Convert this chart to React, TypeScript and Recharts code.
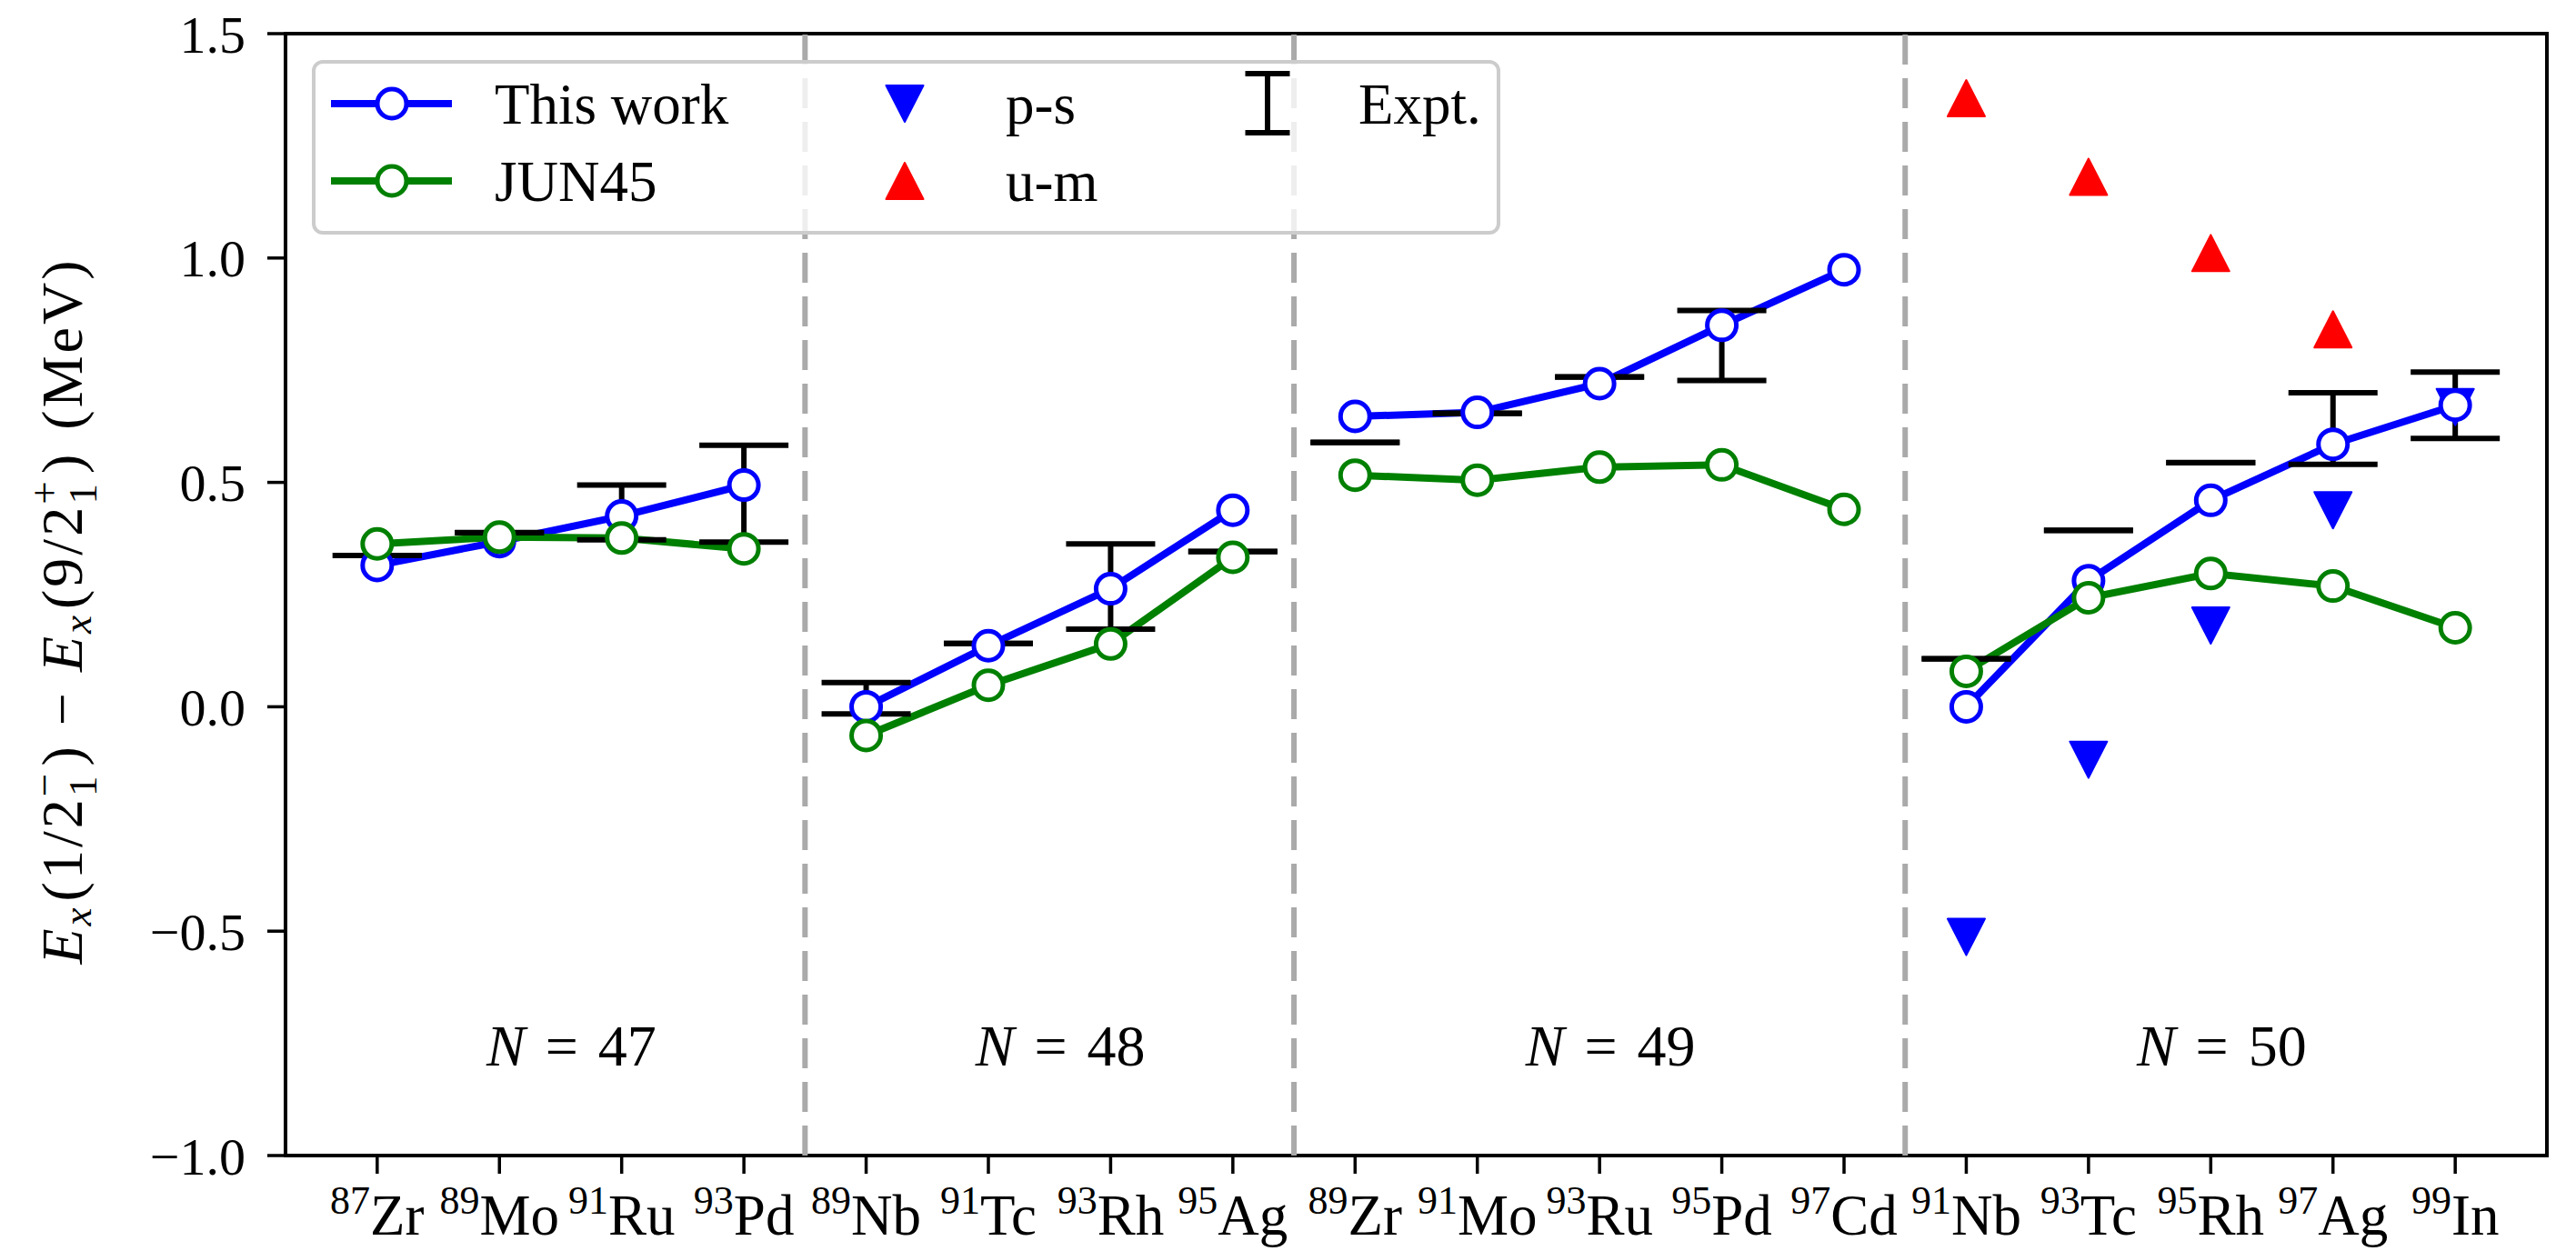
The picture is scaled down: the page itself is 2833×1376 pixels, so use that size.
import React from 'react';
import {
  ComposedChart,
  Line,
  Scatter,
  XAxis,
  YAxis,
  ErrorBar,
  ReferenceLine,
  ReferenceArea,
} from 'recharts';

const FONT = "'Liberation Serif', 'DejaVu Serif', serif";

// nuclides along the x axis
const massNumbers = [87, 89, 91, 93, 89, 91, 93, 95, 89, 91, 93, 95, 97, 91, 93, 95, 97, 99];
const elements = ['Zr', 'Mo', 'Ru', 'Pd', 'Nb', 'Tc', 'Rh', 'Ag', 'Zr', 'Mo', 'Ru', 'Pd', 'Cd', 'Nb', 'Tc', 'Rh', 'Ag', 'In'];

// E(1/2-) - E(9/2+) in MeV
const thisWork = [0.315, 0.368, 0.425, 0.494, 0.0, 0.136, 0.263, 0.438, 0.647, 0.656, 0.72, 0.85, 0.974, 0.0, 0.281, 0.46, 0.585, 0.672];
const jun45 = [0.363, 0.378, 0.376, 0.352, -0.064, 0.048, 0.14, 0.333, 0.516, 0.505, 0.534, 0.539, 0.44, 0.079, 0.243, 0.297, 0.269, 0.176];
const expt = [0.337, 0.388, 0.433, 0.475, 0.019, 0.141, 0.268, 0.346, 0.589, 0.654, 0.735, 0.805, null, 0.107, 0.393, 0.544, 0.62, 0.672];
const exptErr = [0, 0, 0.061, 0.108, 0.035, 0, 0.095, 0, 0, 0, 0, 0.078, null, 0, 0, 0, 0.08, 0.074];

// N = 50 particle-hole estimates
const psIndex = [13, 14, 15, 16, 17];
const psValues = [-0.513, -0.118, 0.181, 0.438, 0.668];
const umIndex = [13, 14, 15, 16];
const umValues = [1.356, 1.181, 1.011, 0.841];

// isotone groups
const groupRanges = [[0, 3], [4, 7], [8, 12], [13, 17]];
const groupNames = ['47', '48', '49', '50'];
const groupCenters = [1.5, 5.5, 10, 15];
const separators = [3.5, 7.5, 12.5];

const yTicks = [-1, -0.5, 0, 0.5, 1, 1.5];
const xTicks = massNumbers.map((_, i) => i);

const BLUE = '#0000ff';
const GREEN = '#008000';
const RED = '#ff0000';

const seg = (vals: number[], [a, b]: number[]) =>
  vals.slice(a, b + 1).map((y, k) => ({ x: a + k, y }));

// zero errors are skipped by ErrorBar, so give them a hair of height to keep the caps
const exptData = expt
  .map((y, i) => ({ x: i, y, err: exptErr[i] || 1e-4 }))
  .filter((d) => d.y !== null);
const psData = psIndex.map((x, k) => ({ x, y: psValues[k] }));
const umData = umIndex.map((x, k) => ({ x, y: umValues[k] }));
const labelData = groupCenters.map((x, k) => ({ x, y: -0.8, name: groupNames[k] }));

const ringDot = (color: string) => (p: any) => (
  <circle key={`d-${p.index}`} cx={p.cx} cy={p.cy} r={16} fill="#fff" stroke={color} strokeWidth={5} />
);

const TriUp = (p: any) => (
  <polygon
    points={`${p.cx},${p.cy - 20} ${p.cx - 20.5},${p.cy + 20} ${p.cx + 20.5},${p.cy + 20}`}
    fill={RED}
    stroke={RED}
    strokeWidth={2}
    strokeLinejoin="round"
  />
);

const TriDown = (p: any) => (
  <polygon
    points={`${p.cx},${p.cy + 20} ${p.cx - 20.5},${p.cy - 20} ${p.cx + 20.5},${p.cy - 20}`}
    fill={BLUE}
    stroke={BLUE}
    strokeWidth={2}
    strokeLinejoin="round"
  />
);

const Empty = () => <g />;

const GroupLabel = (p: any) => (
  <text x={p.cx + 12} y={p.cy} textAnchor="middle" fontFamily={FONT} fontSize={64} fill="#000">
    <tspan fontStyle="italic">N</tspan>
    <tspan dx={22}>=</tspan>
    <tspan dx={22}>{p.payload.name}</tspan>
  </text>
);

const NuclideTick = (p: any) => {
  const i = p.payload.value;
  return (
    <text x={p.x} y={p.y + 67} textAnchor="middle" fontFamily={FONT} fill="#000">
      <tspan fontSize={44} dy={-23}>{massNumbers[i]}</tspan>
      <tspan fontSize={63} dy={23}>{elements[i]}</tspan>
    </text>
  );
};

const YLabel = () => {
  const cx = 90;
  const cy = 672;
  return (
    <text
      x={cx}
      y={cy}
      transform={`rotate(-90, ${cx}, ${cy})`}
      textAnchor="middle"
      fontFamily={FONT}
      fontSize={64}
      letterSpacing={3}
      fill="#000"
    >
      <tspan fontStyle="italic">E</tspan>
      <tspan fontStyle="italic" fontSize={45} dy={10}>x</tspan>
      <tspan dx={4} dy={-10}>(1/2</tspan>
      <tspan fontSize={45} dy={-26}>−</tspan>
      <tspan fontSize={45} dx={-28} dy={42}>1</tspan>
      <tspan dx={8} dy={-16}>)</tspan>
      <tspan dx={20}>−</tspan>
      <tspan dx={20} fontStyle="italic">E</tspan>
      <tspan fontStyle="italic" fontSize={45} dy={10}>x</tspan>
      <tspan dx={4} dy={-10}>(9/2</tspan>
      <tspan fontSize={45} dy={-26}>+</tspan>
      <tspan fontSize={45} dx={-28} dy={42}>1</tspan>
      <tspan dx={8} dy={-16}>)</tspan>
      <tspan dx={24}>(MeV)</tspan>
    </text>
  );
};

const LegendBox = () => (
  <div style={{ position: 'absolute', left: 343, top: 66, width: 1307, height: 192 }}>
    <div
      style={{
        position: 'absolute',
        inset: 0,
        border: '4px solid #cccccc',
        borderRadius: 12,
        background: 'rgba(255,255,255,0.8)',
        boxSizing: 'border-box',
      }}
    />
    <svg width={1307} height={192} style={{ position: 'absolute', left: 0, top: 0 }}>
      <g fontFamily={FONT} fontSize={63} fill="#000">
        <line x1={21} x2={154} y1={48} y2={48} stroke={BLUE} strokeWidth={8} />
        <circle cx={88} cy={48} r={16} fill="#fff" stroke={BLUE} strokeWidth={5} />
        <text x={201} y={70}>This work</text>
        <line x1={21} x2={154} y1={133} y2={133} stroke={GREEN} strokeWidth={8} />
        <circle cx={88} cy={133} r={16} fill="#fff" stroke={GREEN} strokeWidth={5} />
        <text x={201} y={155}>JUN45</text>
        <TriDown cx={652} cy={48} />
        <text x={763} y={70}>p-s</text>
        <TriUp cx={652} cy={133} />
        <text x={763} y={155}>u-m</text>
        <line x1={1051} x2={1051} y1={15} y2={80} stroke="#000" strokeWidth={6} />
        <line x1={1026.5} x2={1075.5} y1={15} y2={15} stroke="#000" strokeWidth={6} />
        <line x1={1026.5} x2={1075.5} y1={80} y2={80} stroke="#000" strokeWidth={6} />
        <text x={1151} y={70}>Expt.</text>
      </g>
    </svg>
  </div>
);

export default function App() {
  return (
    <div style={{ position: 'absolute', left: 0, top: 0, width: 2833, height: 1376, background: '#fff' }}>
      <ComposedChart width={2833} height={1376} margin={{ top: 37, right: 32, bottom: 0, left: 0 }}>
        <XAxis
          dataKey="x"
          type="number"
          domain={[-0.75, 17.75]}
          allowDataOverflow
          ticks={xTicks}
          interval={0}
          height={105}
          tickSize={20}
          tickMargin={0}
          axisLine={false}
          tickLine={{ stroke: '#000', strokeWidth: 3.5 }}
          tick={<NuclideTick />}
        />
        <YAxis
          type="number"
          domain={[-1, 1.5]}
          allowDataOverflow
          ticks={yTicks}
          interval={0}
          width={314}
          tickSize={20}
          tickMargin={24}
          axisLine={false}
          tickLine={{ stroke: '#000', strokeWidth: 3.5 }}
          tick={{ fill: '#000', fontSize: 58, fontFamily: FONT }}
          tickFormatter={(v: number) => v.toFixed(1).replace('-', '−')}
          label={{ content: () => <YLabel /> }}
        />
        {separators.map((s) => (
          <ReferenceLine key={`sep-${s}`} x={s} stroke="#aaaaaa" strokeWidth={6} strokeDasharray="33 15" />
        ))}
        <Scatter data={psData} dataKey="y" shape={<TriDown />} isAnimationActive={false} />
        <Scatter data={umData} dataKey="y" shape={<TriUp />} isAnimationActive={false} />
        {groupRanges.map((r, k) => (
          <Line
            key={`tw-${k}`}
            data={seg(thisWork, r)}
            dataKey="y"
            stroke={BLUE}
            strokeWidth={8}
            dot={ringDot(BLUE)}
            activeDot={false}
            isAnimationActive={false}
          />
        ))}
        {groupRanges.map((r, k) => (
          <Line
            key={`jn-${k}`}
            data={seg(jun45, r)}
            dataKey="y"
            stroke={GREEN}
            strokeWidth={8}
            dot={ringDot(GREEN)}
            activeDot={false}
            isAnimationActive={false}
          />
        ))}
        <Scatter data={exptData} dataKey="y" shape={<Empty />} isAnimationActive={false}>
          <ErrorBar dataKey="err" direction="y" width={49} strokeWidth={6} stroke="#000" isAnimationActive={false} />
        </Scatter>
        <Scatter data={labelData} dataKey="y" shape={<GroupLabel />} isAnimationActive={false} />
        <ReferenceArea
          x1={-0.75}
          x2={17.75}
          y1={-1}
          y2={1.5}
          fill="none"
          fillOpacity={0}
          stroke="#000"
          strokeWidth={4}
          ifOverflow="visible"
        />
      </ComposedChart>
      <LegendBox />
    </div>
  );
}
